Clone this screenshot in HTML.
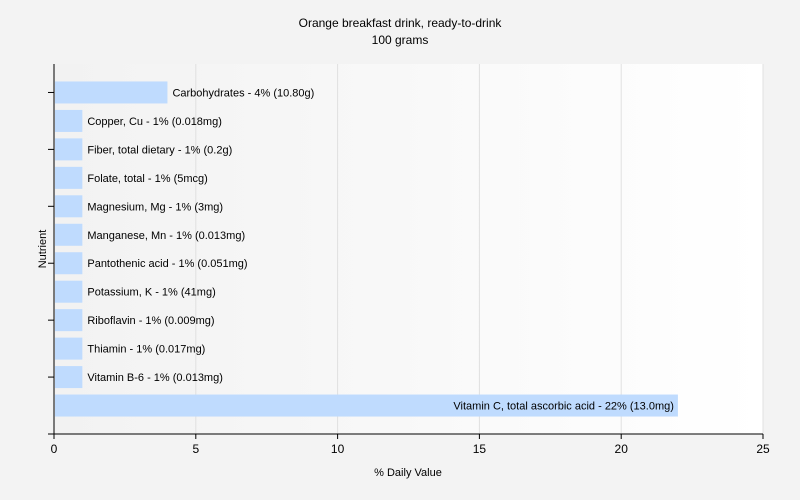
<!DOCTYPE html>
<html><head><meta charset="utf-8"><style>
html,body{margin:0;padding:0;width:800px;height:500px;overflow:hidden;background:#f3f3f3;font-family:"Liberation Sans",sans-serif;}
svg{display:block;}
svg text{font-family:"Liberation Sans",sans-serif;fill:#000;}
</style></head><body>
<svg width="800" height="500">
<defs><linearGradient id="bg" x1="0" x2="1"><stop offset="0" stop-color="#f2f2f2"/><stop offset="1" stop-color="#ffffff"/></linearGradient></defs>
<text x="400" y="27" text-anchor="middle" font-size="12">Orange breakfast drink, ready-to-drink</text>
<text x="400" y="44" text-anchor="middle" font-size="12">100 grams</text>
<rect x="54" y="64" width="709" height="370" fill="url(#bg)"/>
<g id="grid"></g><g id="bars"></g><g id="axes"></g>
<text x="408" y="476" text-anchor="middle" font-size="11">% Daily Value</text>
<text x="46" y="249" text-anchor="middle" font-size="11" transform="rotate(-90 46 249)">Nutrient</text>
</svg>
<script>
const categories=["Carbohydrates","Copper, Cu","Fiber, total dietary","Folate, total","Magnesium, Mg","Manganese, Mn","Pantothenic acid","Potassium, K","Riboflavin","Thiamin","Vitamin B-6","Vitamin C, total ascorbic acid"];
const values=[4,1,1,1,1,1,1,1,1,1,1,22];
const amounts=["10.80g","0.018mg","0.2g","5mcg","3mg","0.013mg","0.051mg","41mg","0.009mg","0.017mg","0.013mg","13.0mg"];
const xTicks=[0,5,10,15,20,25];
const NS="http://www.w3.org/2000/svg";
const X0=54,X1=763,Y0=64,Y1=434,XMAX=25;
const slot=(Y1-Y0)/13;
const x=v=>X0+(X1-X0)*v/XMAX;
const yc=i=>Y0+slot*(i+1);
function mk(t,a,p){const e=document.createElementNS(NS,t);for(const k in a)e.setAttribute(k,a[k]);p.appendChild(e);return e;}
const grid=document.getElementById('grid'),bars=document.getElementById('bars'),axes=document.getElementById('axes');
xTicks.forEach(t=>{
  if(t>0){const g=mk('line',{x1:x(t),x2:x(t),y1:Y0,y2:Y1,stroke:'#e0e0e0'},grid);
  
  }
  const tk=mk('line',{x1:x(t),x2:x(t),y1:Y1,y2:Y1+5,stroke:'#000'},axes);
  
  
  const lb=mk('text',{x:x(t),y:Y1+19,'text-anchor':'middle','font-size':12},axes);
  lb.textContent=t;
  
  
});
categories.forEach((c,i)=>{
  const r=mk('rect',{x:X0+1,y:yc(i)-11,width:x(values[i])-X0-1,height:22,fill:'#bfdbfe'},bars);
  
  
  const label=c+' - '+values[i]+'% ('+amounts[i]+')';
  const inside=values[i]>15;
  const t=mk('text',{x:inside?x(values[i])-4:x(values[i])+5,y:yc(i)+4,'font-size':11,'text-anchor':inside?'end':'start'},bars);
  t.textContent=label;
  
  
});
for(let yy=yc(0);yy<=Y1+1;yy+=slot*2){
  const tk=mk('line',{x1:X0-6,x2:X0,y1:yy,y2:yy,stroke:'#000'},axes);
  
  
}
const ya=mk('line',{x1:X0,x2:X0,y1:Y0,y2:Y1,stroke:'#000'},axes);


const xa=mk('line',{x1:X0-6,x2:X1,y1:Y1,y2:Y1,stroke:'#000'},axes);


</script>
</body></html>
